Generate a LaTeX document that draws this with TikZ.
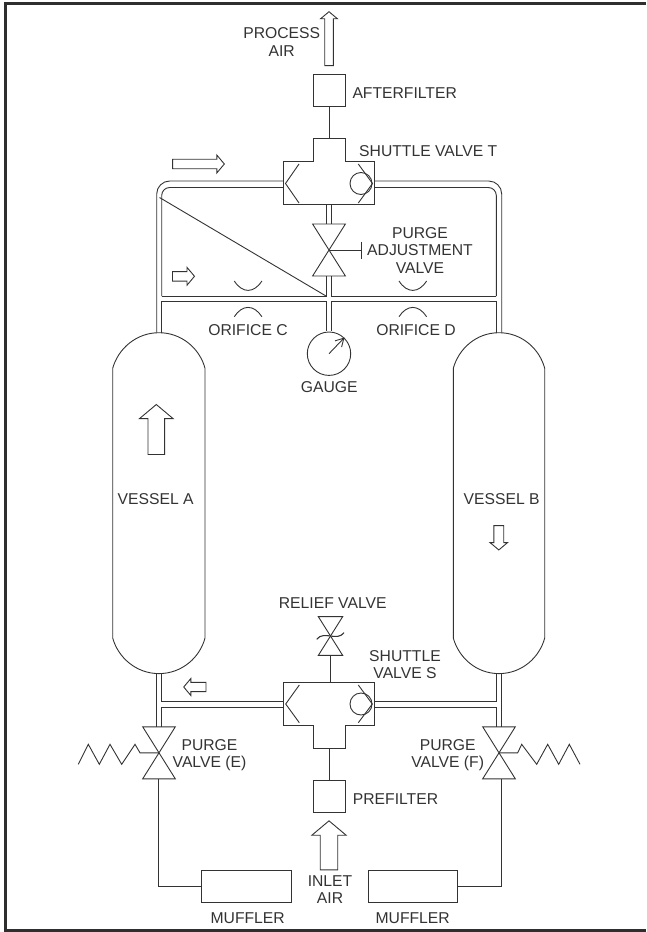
\documentclass[tikz,border=0pt]{standalone}
\usepackage{xcolor}
\usepackage{fontspec}
\setmainfont{Liberation Sans}
\usetikzlibrary{shapes.arrows,arrows.meta,calc}
\definecolor{pipeInk}{HTML}{333333}

\tikzset{
	pipe/.style={draw=pipeInk, line width=0.9pt},
	box/.style={pipe, rectangle, inner sep=0pt, outer sep=0pt},
	tag/.style={font=\fontsize{15.7}{17.4}\selectfont, text=pipeInk, inner sep=0pt, align=center},
	flow/.style n args={3}{pipe, single arrow, inner xsep=0pt, inner ysep=#2, outer sep=0pt, minimum height=#1, single arrow head extend=#3, single arrow tip angle=100, single arrow head indent=0pt},
	pics/valve/.style n args={2}{code={
		\draw[pipe] (-#1,-#2) -- (#1,-#2) -- (-#1,#2) -- (#1,#2) -- cycle;
		\coordinate (-top) at (0,-#2);
		\coordinate (-mid) at (0,0);
		\coordinate (-bot) at (0,#2);
	}}
}

\begin{document}
\begin{tikzpicture}[x=1pt,y=-1pt]
	\useasboundingbox (0,0) rectangle (646,932);
	% frame, open on the right
	\draw[pipeInk!90!black, line width=3pt] (646,3.5) -- (5.8,3.5) -- (5.8,930.8) -- (646,930.8);

	% filters and mufflers
	\node[box, minimum width=32pt, minimum height=31.5pt] (afterfilter) at (329,90.3) {};
	\node[box, minimum width=32pt, minimum height=31.5pt] (prefilter) at (329,796.6) {};
	\node[box, minimum width=89.7pt, minimum height=32pt] (mufflerE) at (246.2,886.7) {};
	\node[box, minimum width=89.4pt, minimum height=32pt] (mufflerF) at (413,886.7) {};

	% valves
	\pic (adjust) at (329,250) {valve={16.4}{26}};
	\pic (relief) at (330.5,636) {valve={12.2}{19.4}};
	\pic (purgeE) at (159,752.8) {valve={16.3}{26}};
	\pic (purgeF) at (499,752.8) {valve={16.3}{26}};

	% shuttle valve T
	\draw[pipe] (283,161.3) -- (313,161.3) -- (313,138) -- (345,138) -- (345,161.3) -- (374.5,161.3) -- (374.5,204) -- (283,204) -- cycle;
	\draw[pipe] (299,164) -- (285.5,183.5) -- (299,203);
	\draw[pipe] (358.3,164) -- (372.5,183.5) -- (358.3,203);
	\node[pipe, circle, minimum size=22pt, inner sep=0pt, outer sep=0pt] (ballT) at (361,183.5) {};
	\coordinate (shuttleTtop) at (329,138);

	% shuttle valve S
	\draw[pipe] (283,682.7) -- (374.5,682.7) -- (374.5,725.3) -- (345,725.3) -- (345,748.3) -- (313,748.3) -- (313,725.3) -- (283,725.3) -- cycle;
	\draw[pipe] (299.3,685) -- (285.7,704) -- (299.3,722.7);
	\draw[pipe] (358.3,685) -- (372.3,704) -- (358.3,722.7);
	\node[pipe, circle, minimum size=22pt, inner sep=0pt, outer sep=0pt] (ballS) at (361,704) {};
	\coordinate (shuttleStop) at (330.5,682.7);
	\coordinate (shuttleSbot) at (329,748.3);

	% vessels
	\draw[pipe] (112.7,368.3) .. controls (118,349) and (136,332.7) .. (159,332.7) .. controls (182,332.7) and (200,349) .. (205,368.3) -- (205,638) .. controls (200,657.3) and (182,673.6) .. (159,673.6) .. controls (136,673.6) and (118,657.3) .. (112.7,638) -- cycle;
	\draw[pipe] (453.3,368.3) .. controls (458.6,349) and (476,332.7) .. (499,332.7) .. controls (522,332.7) and (539.6,349) .. (544.7,368.3) -- (544.7,638) .. controls (539.6,657.3) and (522,673.6) .. (499,673.6) .. controls (476,673.6) and (458.6,657.3) .. (453.3,638) -- cycle;

	% gauge
	\node[pipe, circle, minimum size=43.4pt, inner sep=0pt, outer sep=0pt] (gauge) at (329,353.7) {};
	\coordinate (needle) at (344.5,337.5);
	\draw[pipe, -{Straight Barb[length=8pt,width=9pt]}] (gauge.center) -- (needle);

	% top pipes
	\draw[pipe, rounded corners=13pt] (283,181) -- (156.7,181) -- (156.7,332.7);
	\draw[pipe, rounded corners=8pt] (283,187.5) -- (161.7,187.5) -- (161.7,296);
	\draw[pipe] (161.7,296) -- (326,296) -- (326,276);
	\draw[pipe] (326,224) -- (326,204);
	\draw[pipe] (331.7,224) -- (331.7,204);
	\draw[pipe] (331.7,276) -- (331.7,296) -- (496.3,296);
	\draw[pipe, rounded corners=13pt] (374.5,181) -- (501.7,181) -- (501.7,332.7);
	\draw[pipe, rounded corners=8pt] (374.5,187.5) -- (496.3,187.5) -- (496.3,296);
	\draw[pipe] (159.5,197.5) -- (326,296);
	\draw[pipe] (161.7,332.7) -- (161.7,301.8) -- (326,301.8) -- (326,331);
	\draw[pipe] (496.3,332.7) -- (496.3,301.8) -- (331.7,301.8) -- (331.7,331);

	% bottom pipes
	\draw[pipe] (156.7,673.6) -- (156.7,726.8);
	\draw[pipe] (161.7,673.6) -- (161.7,701.3) -- (283,701.3);
	\draw[pipe] (161.7,726.8) -- (161.7,707) -- (283,707);
	\draw[pipe] (501.7,673.6) -- (501.7,726.8);
	\draw[pipe] (496.7,673.6) -- (496.7,701.3) -- (374.5,701.3);
	\draw[pipe] (496.7,726.8) -- (496.7,707) -- (374.5,707);

	% single lines
	\draw[pipe] (afterfilter.south) -- (shuttleTtop);
	\draw[pipe] (relief-bot) -- (shuttleStop);
	\draw[pipe] (shuttleSbot) -- (prefilter.north);
	\draw[pipe] (158.3,778.8) |- (mufflerE.west);
	\draw[pipe] (501.7,778.8) |- (mufflerF.east);

	% adjustment handle, relief wave, springs
	\draw[pipe] (adjust-mid) -- (361.7,250);
	\draw[pipe] (361.7,241.7) -- (361.7,259);
	\draw[pipe, line width=1.1pt] (316.7,639.3) .. controls (324,630) and (337,642) .. (344,632.7);
	\draw[pipe] (purgeE-mid) -- (140,752.8) -- (135,744.3) -- (121.7,764.3) -- (110,744.3) -- (99.3,764.3) -- (88.3,744.3) -- (78.3,764.3);
	\draw[pipe] (purgeF-mid) -- (517.7,752.8) -- (521.7,744.3) -- (536.7,764.3) -- (547.7,744.3) -- (558.7,764.3) -- (569.3,744.3) -- (580,764.3);

	% orifices
	\foreach \x/\w in {234.3/C, 399/D}{
		\draw[pipe] (\x,281) .. controls (\x+8,293.5) and (\x+19.5,293.5) .. (\x+27.6,281);
		\draw[pipe] (\x,316.7) .. controls (\x+8,304.3) and (\x+19.5,304.3) .. (\x+27.6,316.7);
	}

	% flow arrows
	\node[flow={54pt}{3.85pt}{4.1pt}, rotate=90] (processArrow) at (329,40.5) {};
	\node[flow={51.7pt}{4.3pt}{4.2pt}] (flowT) at (196.5,164) {};
	\node[flow={22pt}{4.3pt}{4.2pt}] (flowC) at (181.5,276.3) {};
	\node[flow={50pt}{7.85pt}{8.5pt}, rotate=90] (flowA) at (156.3,433) {};
	\node[flow={24.3pt}{4.5pt}{3.7pt}, rotate=-90] (flowB) at (498.8,535.7) {};
	\node[flow={22.3pt}{4.15pt}{3.85pt}, rotate=180] (flowS) at (196.8,687) {};
	\node[flow={49pt}{8.3pt}{8.4pt}, rotate=90] (inletArrow) at (329,849) {};

	% labels
	\node[tag] (processLabel) at (281.7,42) {PROCESS\\AIR};
	\node[tag, anchor=west] (afterLabel) at (352.3,93.3) {AFTERFILTER};
	\node[tag, anchor=west] (shuttleTLabel) at (359,150.7) {SHUTTLE VALVE T};
	\node[tag] (adjustLabel) at (420,250.5) {PURGE\\ADJUSTMENT\\VALVE};
	\node[tag] (orificeC) at (248,330) {ORIFICE C};
	\node[tag] (orificeD) at (416,330) {ORIFICE D};
	\node[tag] (gaugeLabel) at (329.3,387) {GAUGE};
	\node[tag] (vesselA) at (155.7,499.3) {VESSEL A};
	\node[tag] (vesselB) at (501.7,498.6) {VESSEL B};
	\node[tag] (reliefLabel) at (332.7,602.7) {RELIEF VALVE};
	\node[tag] (shuttleSLabel) at (405,664.5) {SHUTTLE\\VALVE S};
	\node[tag] (purgeELabel) at (209.5,755) {PURGE\\VALVE (E)};
	\node[tag] (purgeFLabel) at (447.7,755) {PURGE\\VALVE (F)};
	\node[tag, anchor=west] (preLabel) at (352.7,799) {PREFILTER};
	\node[tag] (inletLabel) at (330,889.5) {INLET\\AIR};
	\node[tag] (mufflerELabel) at (247.7,918) {MUFFLER};
	\node[tag] (mufflerFLabel) at (412.7,918) {MUFFLER};
\end{tikzpicture}
\end{document}
